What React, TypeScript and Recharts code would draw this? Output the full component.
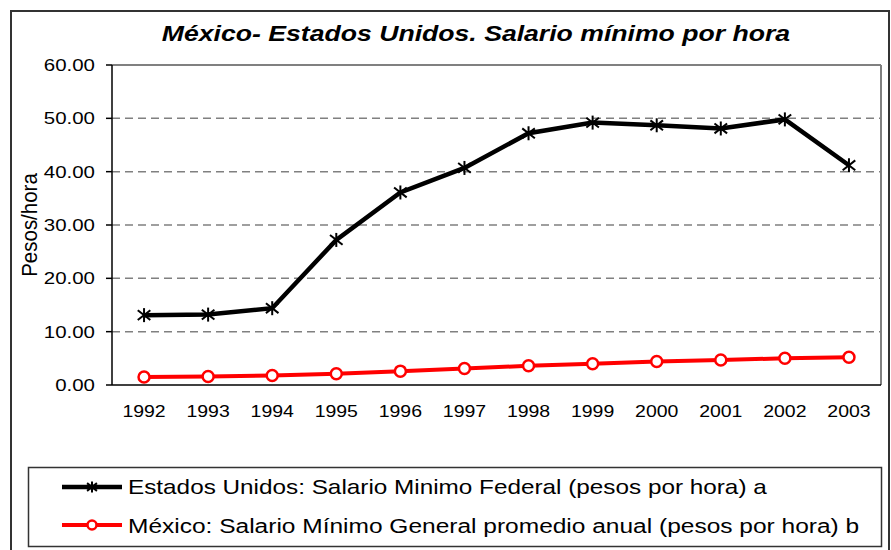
import React from 'react';
import { LineChart, Line, XAxis, YAxis, ReferenceLine } from 'recharts';

const years = ['1992', '1993', '1994', '1995', '1996', '1997', '1998', '1999', '2000', '2001', '2002', '2003'];
const usWage = [13.1, 13.2, 14.4, 27.2, 36.1, 40.7, 47.2, 49.2, 48.7, 48.1, 49.8, 41.2];
const mxWage = [1.5, 1.6, 1.8, 2.1, 2.6, 3.1, 3.6, 4.0, 4.4, 4.7, 5.0, 5.2];
const yTicks = [0, 10, 20, 30, 40, 50, 60];
const gridValues = [10, 20, 30, 40, 50];
const titleText = 'México- Estados Unidos. Salario mínimo por hora';
const yLabelText = 'Pesos/hora';
const usLabel = 'Estados Unidos: Salario Minimo Federal (pesos por hora) a';
const mxLabel = 'México: Salario Mínimo General promedio anual (pesos por hora) b';

const data = years.map((y, i) => ({ pos: i + 0.5, year: y, us: usWage[i], mx: mxWage[i] }));
const boundaryTicks = years.map((_, i) => i).concat([years.length]);
const centerTicks = years.map((_, i) => i + 0.5);

const FONT = 'Arial, "Liberation Sans", sans-serif';
const SX = 1.21;

const Asterisk = ({ cx, cy, size = 7 }: { cx: number; cy: number; size?: number }) => (
  <g stroke="#000" strokeWidth={2} strokeLinecap="butt">
    <line x1={cx} y1={cy - size} x2={cx} y2={cy + size} />
    <line x1={cx - size * 0.9} y1={cy - size * 0.7} x2={cx + size * 0.9} y2={cy + size * 0.7} />
    <line x1={cx - size * 0.9} y1={cy + size * 0.7} x2={cx + size * 0.9} y2={cy - size * 0.7} />
  </g>
);

const RingDot = ({ cx, cy, r = 5.5 }: { cx: number; cy: number; r?: number }) => (
  <circle cx={cx} cy={cy} r={r} fill="#fff" stroke="#ff0000" strokeWidth={2.5} />
);

const YTick = (props: any) => {
  const { x, y, payload } = props;
  return (
    <text
      transform={`translate(${x},${y + 6}) scale(1.24,1)`}
      textAnchor="end"
      fontFamily={FONT}
      fontSize={16.5}
      fill="#000"
    >
      {Number(payload.value).toFixed(2)}
    </text>
  );
};

const XTick = (props: any) => {
  const { x, y, payload } = props;
  const idx = Math.floor(payload.value);
  return (
    <text
      transform={`translate(${x},${y + 26}) scale(1.18,1)`}
      textAnchor="middle"
      fontFamily={FONT}
      fontSize={16.5}
      fill="#000"
    >
      {years[idx]}
    </text>
  );
};

export default function App() {
  return (
    <div style={{ position: 'absolute', left: 0, top: 0, width: 891, height: 550, overflow: 'hidden', background: '#fff' }}>
      <div
        style={{
          position: 'absolute',
          left: 10,
          top: 10,
          width: 880,
          height: 600,
          border: '2px solid #333',
          boxSizing: 'border-box',
        }}
      />
      <div style={{ position: 'absolute', left: 0, top: 0 }}>
        <LineChart width={891} height={550} data={data} margin={{ top: 65, right: 10, left: 0, bottom: 129 }}>
          {gridValues.map((v) => (
            <ReferenceLine key={v} y={v} stroke="#808080" strokeWidth={1.5} strokeDasharray="8 5" />
          ))}
          <ReferenceLine y={60} stroke="#808080" strokeWidth={2} />
          <ReferenceLine x={12} stroke="#808080" strokeWidth={2} />
          <XAxis
            dataKey="pos"
            type="number"
            domain={[0, 12]}
            ticks={boundaryTicks}
            interval={0}
            tick={false}
            tickSize={6}
            height={6}
            axisLine={{ stroke: '#000', strokeWidth: 1.5 }}
            tickLine={{ stroke: '#000', strokeWidth: 1.5 }}
            allowDataOverflow
          />
          <XAxis
            xAxisId="labels"
            dataKey="pos"
            type="number"
            domain={[0, 12]}
            ticks={centerTicks}
            interval={0}
            tick={<XTick />}
            tickSize={0}
            tickMargin={0}
            height={30}
            axisLine={false}
            tickLine={false}
            allowDataOverflow
          />
          <YAxis
            type="number"
            domain={[0, 60]}
            ticks={yTicks}
            interval={0}
            width={112}
            tickSize={6}
            tickMargin={11}
            tick={<YTick />}
            axisLine={{ stroke: '#000', strokeWidth: 1.5 }}
            tickLine={{ stroke: '#000', strokeWidth: 1.5 }}
            allowDataOverflow
          />
          <Line
            type="linear"
            dataKey="us"
            stroke="#000"
            strokeWidth={4.5}
            isAnimationActive={false}
            dot={(p: any) => <Asterisk key={`us-${p.index}`} cx={p.cx} cy={p.cy} />}
            activeDot={false}
          />
          <Line
            type="linear"
            dataKey="mx"
            stroke="#ff0000"
            strokeWidth={4}
            isAnimationActive={false}
            dot={(p: any) => <RingDot key={`mx-${p.index}`} cx={p.cx} cy={p.cy} />}
            activeDot={false}
          />
        </LineChart>
      </div>
      <svg width={891} height={550} style={{ position: 'absolute', left: 0, top: 0, pointerEvents: 'none' }}>
        <text
          transform={`translate(476,41) scale(${SX},1)`}
          textAnchor="middle"
          fontFamily={FONT}
          fontSize={22}
          fontWeight="bold"
          fontStyle="italic"
          fill="#000"
        >
          {titleText}
        </text>
        <text
          transform={`translate(37,225) scale(1.12,1) rotate(-90)`}
          textAnchor="middle"
          fontFamily={FONT}
          fontSize={20.5}
          fill="#000"
        >
          {yLabelText}
        </text>
        <rect x={28.5} y={467.5} width={853} height={79} fill="#fff" stroke="#333" strokeWidth={1.5} />
        <line x1={62} y1={487} x2={122} y2={487} stroke="#000" strokeWidth={4.5} />
        <Asterisk cx={92} cy={487} size={5.5} />
        <text transform={`translate(128,494) scale(1.215,1)`} fontFamily={FONT} fontSize={20} fill="#000">
          {usLabel}
        </text>
        <line x1={62} y1={525} x2={122} y2={525} stroke="#ff0000" strokeWidth={4} />
        <RingDot cx={92} cy={525} r={4.5} />
        <text transform={`translate(128,533) scale(1.225,1)`} fontFamily={FONT} fontSize={20} fill="#000">
          {mxLabel}
        </text>
      </svg>
    </div>
  );
}
